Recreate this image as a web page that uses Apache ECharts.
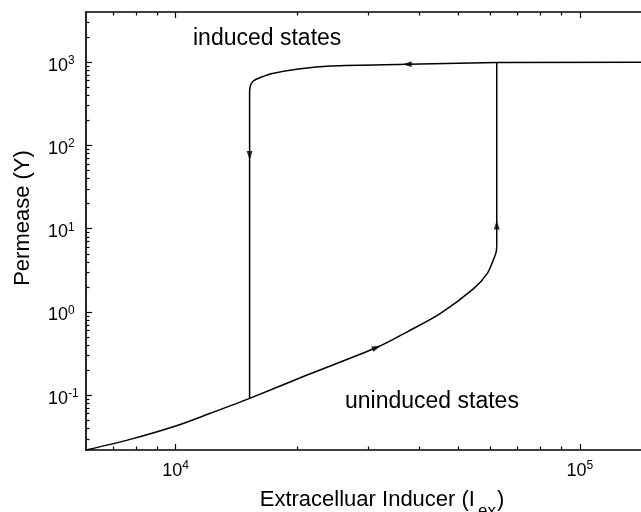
<!DOCTYPE html>
<html lang="en">
  <head>
    <meta charset="UTF-8" />
    <title>Permease hysteresis</title>
    <script src="https://cdn.jsdelivr.net/npm/echarts@6/dist/echarts.min.js"></script>
    <style>
      html, body { margin: 0; padding: 0; background: #fff; }
      #main { width: 641px; height: 512px; }
    </style>
  </head>
  <body>
    <div id="main"></div>
    <script>
      // 下支路 (uninduced states)
      var lowerX = [6000, 7715, 10000, 12180, 15240, 21140, 31400, 37410, 45230, 54700, 59040, 61330, 62100, 62300];
      var lowerY = [0.022, 0.0295, 0.0427, 0.0607, 0.0918, 0.1747, 0.3737, 0.578, 0.962, 1.92, 2.91, 4.41, 5.24, 6.07];
      // 向上跳变 + 右侧上支路
      var jumpUpX = [62300, 62300, 175000];
      var jumpUpY = [6.07, 990, 995];
      // 上支路 (induced states)
      var upperX = [62300, 37410, 24150, 20120, 17350, 16200, 15560, 15300, 15240];
      var upperY = [990, 941, 898, 826, 730, 653, 593, 516, 437];
      // 向下跳变
      var jumpDownX = [15240, 15240];
      var jumpDownY = [437, 0.0918];
      // 箭头
      var arrowX = [31400, 62300, 37410, 15240];
      var arrowY = [0.3737, 11.1, 941, 75.6];
      var arrowRotate = [-67, 0, 90, 180];

      // 刻度
      var majorX = [10000, 100000];
      var minorX = [7000, 8000, 9000, 20000, 30000, 40000, 50000, 60000, 70000, 80000, 90000];
      var majorY = [0.1, 1, 10, 100, 1000];
      var minorY = [0.03, 0.04, 0.05, 0.06, 0.07, 0.08, 0.09, 0.2, 0.3, 0.4, 0.5, 0.6, 0.7, 0.8, 0.9,
        2, 3, 4, 5, 6, 7, 8, 9, 20, 30, 40, 50, 60, 70, 80, 90, 200, 300, 400, 500, 600, 700, 800, 900, 2000, 3000];

      var font = "'Liberation Sans', Arial, sans-serif";
      var black = "#000";

      function powLabel(v) {
        var e = Math.round(Math.log10(v));
        return "{b|10}{s|" + e + "}";
      }

      function lineData(xs, ys) {
        var out = [];
        for (var i = 0; i < xs.length; i++) out.push([xs[i], ys[i]]);
        return out;
      }

      var arrowData = [];
      for (var i = 0; i < arrowX.length; i++) {
        arrowData.push({ value: [arrowX[i], arrowY[i]], symbolRotate: arrowRotate[i] });
      }

      var powRich = {
        b: { fontSize: 18, fontFamily: font, color: black, verticalAlign: "bottom" },
        s: { fontSize: 12, fontFamily: font, color: black, verticalAlign: "bottom", padding: [0, 0, 8, 0] },
      };

      // 两个重叠的 grid：0 放主刻度和曲线，1 只放次刻度
      function xAxisDef(grid, pos, ticks, len, showLine, label) {
        return {
          type: "log",
          logBase: 10,
          gridIndex: grid,
          position: pos,
          min: 6000,
          max: 175000,
          splitLine: { show: false },
          axisLine: { show: showLine, lineStyle: { color: black, width: 1.7 } },
          axisTick: { inside: true, length: len, customValues: ticks, lineStyle: { color: black, width: 1.2 } },
          axisLabel: label ? { customValues: ticks, margin: 10, formatter: powLabel, rich: powRich } : { show: false },
        };
      }

      function yAxisDef(grid, ticks, len, showLine, label) {
        return {
          type: "log",
          logBase: 10,
          gridIndex: grid,
          position: "left",
          min: 0.022,
          max: 4000,
          splitLine: { show: false },
          axisLine: { show: showLine, lineStyle: { color: black, width: 1.7 } },
          axisTick: { inside: true, length: len, customValues: ticks, lineStyle: { color: black, width: 1.2 } },
          axisLabel: label
            ? { customValues: ticks, margin: 38, align: "left", padding: [5, 0, 0, 0], formatter: powLabel, rich: powRich }
            : { show: false },
        };
      }

      var xAxes = [
        xAxisDef(0, "bottom", majorX, 6, true, true),
        xAxisDef(0, "top", majorX, 6, true, false),
        xAxisDef(1, "bottom", minorX, 3.5, false, false),
        xAxisDef(1, "top", minorX, 3.5, false, false),
      ];
      xAxes[0].name = "{a|Extracelluar Inducer (I}{b|ex}{a|)}";
      xAxes[0].nameLocation = "middle";
      xAxes[0].nameGap = 39;
      xAxes[0].nameTextStyle = {
        rich: {
          a: { fontSize: 22, fontFamily: font, color: black, verticalAlign: "bottom", padding: [0, 0, 9, 0] },
          b: { fontSize: 17, fontFamily: font, color: black, verticalAlign: "bottom", padding: [0, 1, 0, 3] },
        },
      };

      var yAxes = [yAxisDef(0, majorY, 6, true, true), yAxisDef(1, minorY, 3.5, false, false)];
      yAxes[0].name = "Permease (Y)";
      yAxes[0].nameLocation = "middle";
      yAxes[0].nameGap = 52;
      yAxes[0].nameTextStyle = { fontSize: 22, fontFamily: font, color: black, padding: [0, 0, 0, 26] };

      var gridBox = { left: 86, top: 12, right: -37, bottom: 62, outerBoundsMode: "none" };

      var chart = echarts.init(document.getElementById("main"));
      chart.setOption({
        animation: false,
        backgroundColor: "#fff",
        grid: [gridBox, gridBox],
        xAxis: xAxes,
        yAxis: yAxes,
        graphic: [
          { type: "text", left: 193, top: 27, style: { text: "induced states", fontSize: 23, fontFamily: font, fill: black } },
          { type: "text", left: 345, top: 390, style: { text: "uninduced states", fontSize: 23, fontFamily: font, fill: black } },
        ],
        series: [
          {
            type: "line",
            data: lineData(lowerX, lowerY),
            smooth: 0.3,
            showSymbol: false,
            lineStyle: { color: black, width: 1.5 },
          },
          {
            type: "line",
            data: lineData(jumpUpX, jumpUpY),
            showSymbol: false,
            lineStyle: { color: black, width: 1.5 },
          },
          {
            type: "line",
            data: lineData(upperX, upperY),
            smooth: 0.3,
            showSymbol: false,
            lineStyle: { color: black, width: 1.5 },
          },
          {
            type: "line",
            data: lineData(jumpDownX, jumpDownY),
            showSymbol: false,
            lineStyle: { color: black, width: 1.5 },
          },
          {
            type: "scatter",
            data: arrowData,
            symbol: "triangle",
            symbolSize: [6, 9],
            itemStyle: { color: black },
            z: 5,
          },
        ],
      });
    </script>
  </body>
</html>
